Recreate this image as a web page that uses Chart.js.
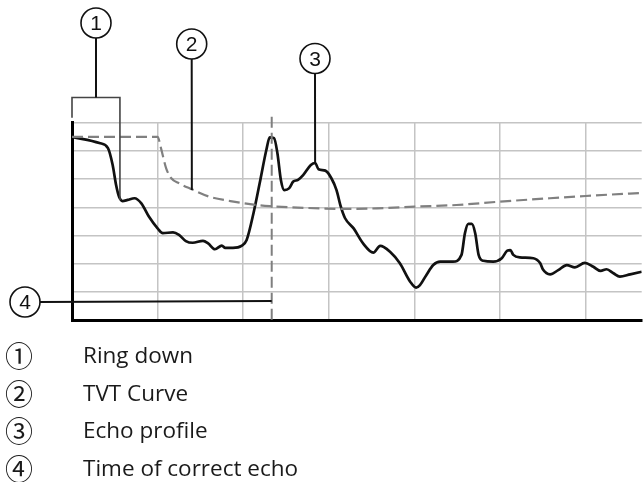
<!DOCTYPE html>
<html>
<head>
<meta charset="utf-8">
<script src="https://cdn.jsdelivr.net/npm/chart.js@4.4.1/dist/chart.umd.min.js"></script>
<style>
  html, body { margin: 0; padding: 0; background: #ffffff; }
  #wrap { position: relative; width: 644px; height: 482px; overflow: hidden; }
  canvas { display: block; }
  .num {
    position: absolute; width: 30px; height: 30px; line-height: 30px;
    text-align: center; font-family: "Liberation Sans", Arial, sans-serif;
    font-size: 21px; color: #111;
  }
  .legend-row { position: absolute; left: 0; height: 30px; line-height: 30px; color: #1a1a1a; }
  .legend-row .sym {
    position: absolute; left: 4px; width: 30px; text-align: center;
    font-family: "Noto Sans CJK JP", "DejaVu Sans", sans-serif; font-size: 28px;
  }
  .legend-row .txt {
    position: absolute; left: 83px; white-space: nowrap;
    font-family: "Open Sans", "Noto Sans", sans-serif; font-size: 22.5px;
  }
</style>
</head>
<body>
<div id="wrap">
  <canvas id="c" width="644" height="482"></canvas>
</div>
<script>
// Echo profile (solid line): time position and amplitude
const echoX = [0.1, 3.2, 4.2, 4.75, 5.15, 5.5, 5.9, 6.5, 7.3, 8.1, 9.0, 10.0, 10.6, 11.8, 12.5, 13.3, 14.1,
  15.3, 15.9, 16.7, 17.5, 17.9, 18.8, 19.8, 20.4, 21.2, 22.0, 22.7, 23.1, 23.6, 24.0, 24.4, 24.8,
  25.35, 25.85, 26.4, 27.0, 27.9, 28.4, 28.8, 29.6, 30.3, 30.9, 31.4, 31.9, 32.9, 34.0, 35.2, 36.0,
  37.15, 38.3, 39.5, 40.2, 40.65, 41.4, 42.2, 43.0, 44.5, 45.5, 45.9, 46.3, 46.7, 47.1, 47.5, 48.05,
  49.2, 50.2, 50.85, 51.2, 51.55, 52.3, 53.9, 54.7, 55.0, 55.85, 56.8, 57.8, 58.75, 59.9, 60.9,
  61.75, 62.45, 63.25, 64.0, 65.2, 66.55];
const echoY = [64.9, 62.8, 61.0, 55.0, 47.9, 43.7, 42.2, 42.6, 43.2, 41.4, 36.6, 32.5, 30.8, 31.1, 30.2, 28.0, 27.4,
  28.1, 27.2, 25.1, 26.4, 25.6, 25.6, 26.3, 28.4, 37.9, 49.7, 60.3, 64.8, 64.5, 59.1, 49.7, 46.1,
  46.7, 49.1, 49.7, 51.4, 55.0, 55.7, 53.5, 53.0, 50.3, 46.1, 40.2, 36.1, 32.5, 27.2, 23.9, 26.3,
  24.2, 20.1, 13.6, 11.5, 12.4, 16.0, 19.5, 20.7, 20.7, 23.1, 30.8, 34.1, 34.1, 30.8, 23.1, 21.0,
  20.7, 21.9, 24.6, 24.8, 23.1, 22.2, 21.9, 20.1, 18.0, 16.2, 17.7, 19.5, 18.7, 20.3, 18.9,
  17.4, 18.0, 16.6, 15.4, 16.2, 17.1];

// TVT curve (dashed line)
const tvtX = [0, 10.0, 10.4, 11.0, 11.6, 12.5, 13.9, 16.1, 18.5, 20.8, 23.1, 25.5, 29.0, 31.7, 35.6, 40.0, 44.9, 50.0, 55.8, 60.0, 66.55];
const tvtY = [65.0, 65.0, 60.9, 53.8, 50.3, 48.5, 46.5, 43.7, 42.2, 41.1, 40.4, 40.0, 39.6, 39.4, 39.6, 40.2, 40.8, 42.0, 43.2, 44.0, 45.1];

// Time of the correct echo
const echoTime = 23.33;

// Axis extents and grid spacing
const xMax = 66.55, xStep = 10;
const yMax = 70, yStep = 10;

// Callout targets (data coordinates)
const ringDownEndX = 5.6, ringDownEndY = 42.6;
const tvtCalloutX = 14.0, tvtCalloutY = 46.1;
const echoCalloutX = 28.4, echoCalloutY = 55.7;
const timeCalloutY = 6.7;

// Legend
const legendNumbers = ['①', '②', '③', '④'];
const legendLabels = ['Ring down', 'TVT Curve', 'Echo profile', 'Time of correct echo'];

const toPoints = (xs, ys) => xs.map((x, i) => ({ x, y: ys[i] }));

// Callout circle placements (canvas pixels)
const circles = [
  { n: '1', cx: 96, cy: 23 },
  { n: '2', cx: 191.7, cy: 44 },
  { n: '3', cx: 315, cy: 58.5 },
  { n: '4', cx: 25, cy: 302 }
];
const R = 15;

const calloutPlugin = {
  id: 'callouts',
  afterDatasetsDraw(chart) {
    const { ctx, chartArea } = chart;
    const xs = chart.scales.x, ys = chart.scales.y;
    ctx.save();

    // vertical marker for time of correct echo
    const tx = xs.getPixelForValue(echoTime);
    ctx.strokeStyle = '#7f7f7f';
    ctx.lineWidth = 2;
    ctx.setLineDash([11, 5]);
    ctx.beginPath();
    ctx.moveTo(tx, chartArea.top - 6);
    ctx.lineTo(tx, chartArea.bottom);
    ctx.stroke();
    ctx.setLineDash([]);

    // circles
    ctx.strokeStyle = '#111';
    ctx.lineWidth = 1.6;
    circles.forEach(c => {
      ctx.beginPath();
      ctx.arc(c.cx, c.cy, R, 0, Math.PI * 2);
      ctx.stroke();
    });

    // ring down bracket
    const bx0 = xs.getPixelForValue(0);
    const bx1 = xs.getPixelForValue(ringDownEndX);
    const by = 97.5;
    ctx.strokeStyle = '#444';
    ctx.lineWidth = 1.6;
    ctx.beginPath();
    ctx.moveTo(bx0, chartArea.top - 5);
    ctx.lineTo(bx0, by);
    ctx.lineTo(bx1, by);
    ctx.lineTo(bx1, ys.getPixelForValue(ringDownEndY));
    ctx.stroke();

    // leader lines
    ctx.strokeStyle = '#111';
    ctx.lineWidth = 2;
    ctx.beginPath();
    ctx.moveTo(circles[0].cx, circles[0].cy + R);
    ctx.lineTo(circles[0].cx, by);
    ctx.moveTo(circles[1].cx, circles[1].cy + R);
    ctx.lineTo(xs.getPixelForValue(tvtCalloutX), ys.getPixelForValue(tvtCalloutY));
    ctx.moveTo(circles[2].cx, circles[2].cy + R);
    ctx.lineTo(xs.getPixelForValue(echoCalloutX), ys.getPixelForValue(echoCalloutY));
    ctx.moveTo(circles[3].cx + R, circles[3].cy);
    ctx.lineTo(tx, ys.getPixelForValue(timeCalloutY));
    ctx.stroke();

    ctx.restore();
  }
};

const chart = new Chart(document.getElementById('c'), {
  type: 'line',
  data: {
    datasets: [
      {
        label: 'TVT Curve',
        data: toPoints(tvtX, tvtY),
        borderColor: '#808080',
        borderWidth: 2.2,
        borderDash: [11, 5],
        pointRadius: 0,
        fill: false,
        cubicInterpolationMode: 'monotone'
      },
      {
        label: 'Echo profile',
        data: toPoints(echoX, echoY),
        borderColor: '#111111',
        borderWidth: 2.7,
        pointRadius: 0,
        fill: false,
        cubicInterpolationMode: 'monotone'
      }
    ]
  },
  options: {
    responsive: false,
    animation: false,
    events: [],
    layout: { padding: { left: 72, top: 122.7, right: 2.3, bottom: 162 } },
    plugins: { legend: { display: false }, tooltip: { enabled: false } },
    scales: {
      x: {
        type: 'linear', min: 0, max: xMax,
        ticks: { display: false, stepSize: xStep },
        grid: {
          drawTicks: false, lineWidth: 1.5,
          color: c => (c.tick && c.tick.value > 60.5) ? 'rgba(0,0,0,0)' : '#c4c4c4'
        },
        border: { display: true, color: '#000', width: 3 }
      },
      y: {
        type: 'linear', min: 0, max: yMax,
        ticks: { display: false, stepSize: yStep },
        grid: { drawTicks: false, lineWidth: 1.5, color: '#c4c4c4' },
        border: { display: true, color: '#000', width: 3 }
      }
    }
  },
  plugins: [calloutPlugin]
});

// callout numbers and legend as page text
const wrap = document.getElementById('wrap');
circles.forEach(c => {
  const d = document.createElement('div');
  d.className = 'num';
  d.textContent = c.n;
  d.style.left = (c.cx - 15) + 'px';
  d.style.top = (c.cy - 15) + 'px';
  wrap.appendChild(d);
});
const rowCenters = [355, 392.5, 430, 467.5];
legendLabels.forEach((label, i) => {
  const row = document.createElement('div');
  row.className = 'legend-row';
  row.style.top = (rowCenters[i] - 15) + 'px';
  row.style.width = '644px';
  const s = document.createElement('span');
  s.className = 'sym';
  s.textContent = legendNumbers[i];
  const t = document.createElement('span');
  t.className = 'txt';
  t.textContent = label;
  row.appendChild(s);
  row.appendChild(t);
  wrap.appendChild(row);
});
</script>
</body>
</html>
